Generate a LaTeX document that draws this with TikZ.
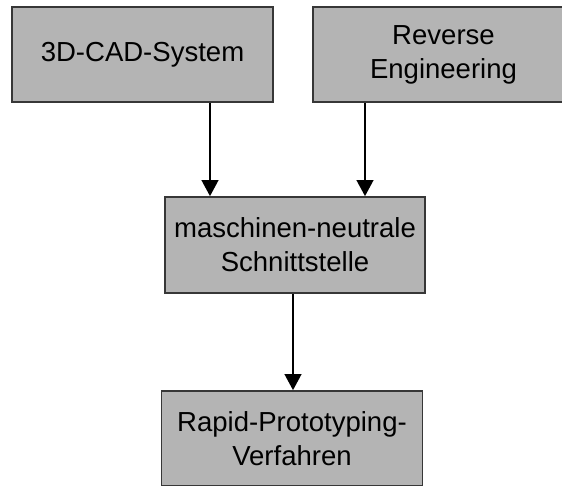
\documentclass[tikz,border=0pt]{standalone}
\usepackage{fontspec}
\setmainfont{Liberation Sans}
\usetikzlibrary{calc,arrows.meta}
\definecolor{boxgray}{RGB}{180,180,180}
\definecolor{edgegray}{RGB}{55,55,55}

\begin{document}
\begin{tikzpicture}[x=0.03cm,y=0.03cm,
    stage/.style={draw=edgegray,line width=0.05cm,fill=boxgray,inner sep=0pt,
        minimum width=7.83cm,minimum height=2.85cm,align=center,
        font=\fontsize{23.5}{29}\selectfont},
    flow/.style={line width=0.06cm,-{Triangle[width=0.5cm,length=0.48cm]}}]
    \useasboundingbox (0,0) rectangle (562,486);
    \node[stage] (cad) at (142.5,431.5){3D-CAD-System};
    \node[stage] (rev) at (443.5,431.5){Reverse\\Engineering};
    \node[stage,minimum height=2.88cm,minimum width=7.8cm] (mid) at (295,241){maschinen-neutrale\\Schnittstelle};
    \node[stage] (rp) at (292,47.5){Rapid-Prototyping-\\Verfahren};
    % Zuleitungen zur Schnittstelle
    \draw[flow] ($(cad.south)+(67.5,0)$) -- ($(mid.north)+(-85,0)$);
    \draw[flow] ($(rev.south)+(-78.5,0)$) -- ($(mid.north)+(70,0)$);
    \draw[flow] ($(mid.south)+(-2,0)$) -- ($(rp.north)+(1,0)$);
\end{tikzpicture}
\end{document}
